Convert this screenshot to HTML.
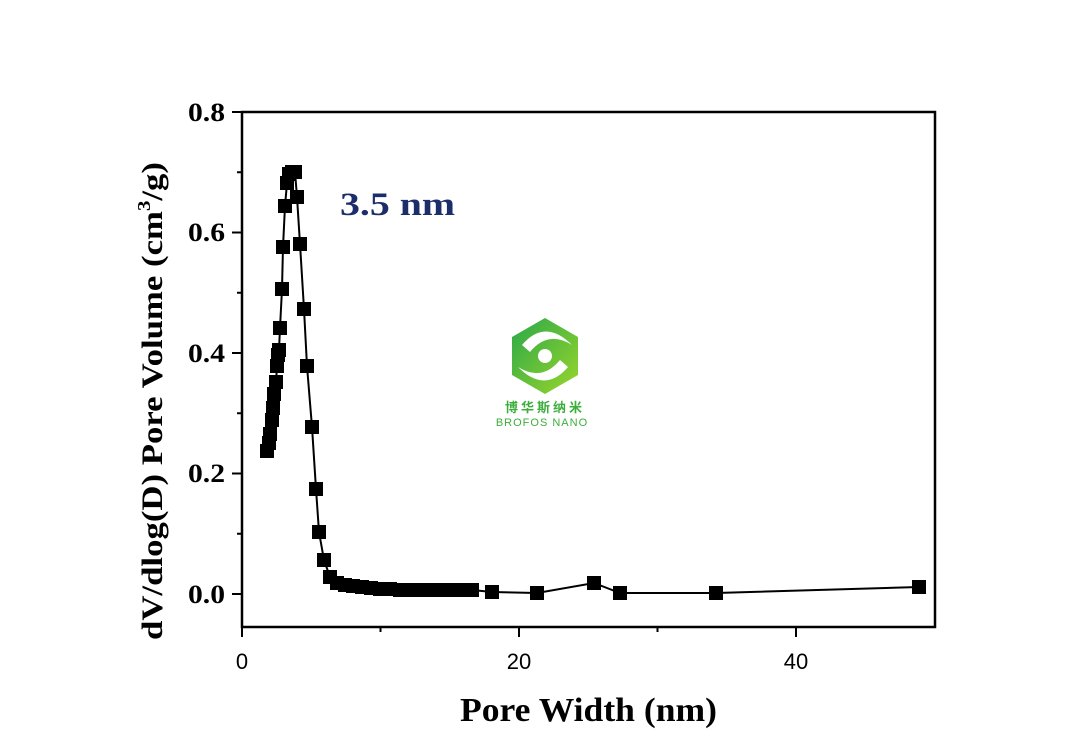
<!DOCTYPE html>
<html><head><meta charset="utf-8"><style>
body{margin:0;background:#fff;width:1084px;height:741px;overflow:hidden}
</style></head><body>
<svg width="1084" height="741" viewBox="0 0 1084 741" xmlns="http://www.w3.org/2000/svg">
<rect width="1084" height="741" fill="#fff"/>
<defs><linearGradient id="g" x1="0" y1="0" x2="1" y2="1"><stop offset="0" stop-color="#2aa84a"/><stop offset="1" stop-color="#9ad62a"/></linearGradient></defs>
<polygon points="545,318 578,337 578,375 545,394 512,375 512,337" fill="url(#g)"/>
<path d="M522,345 Q545,318 572,345 Q548,330 530,352 Z" fill="#fff"/>
<path d="M568,367 Q545,394 518,367 Q542,382 560,360 Z" fill="#fff"/>
<circle cx="545" cy="356" r="7" fill="#fff"/>
<text x="545" y="412" text-anchor="middle" font-family="'Noto Sans CJK SC',sans-serif" font-size="13" font-weight="bold" fill="#3cae3c" letter-spacing="3">博华斯纳米</text>
<text x="542" y="426" text-anchor="middle" font-family="'Liberation Sans',sans-serif" font-size="11" fill="#3cae3c" letter-spacing="1">BROFOS NANO</text>
<rect x="242" y="112" width="693" height="515" stroke="#000" stroke-width="2.5" fill="none"/>
<g stroke="#000" stroke-width="2">
<line x1="242" y1="594" x2="232" y2="594"/><line x1="242" y1="473.5" x2="232" y2="473.5"/><line x1="242" y1="353" x2="232" y2="353"/><line x1="242" y1="232.5" x2="232" y2="232.5"/><line x1="242" y1="112" x2="232" y2="112"/>
<line x1="242" y1="533.75" x2="237" y2="533.75"/><line x1="242" y1="413.25" x2="237" y2="413.25"/><line x1="242" y1="292.75" x2="237" y2="292.75"/><line x1="242" y1="172.25" x2="237" y2="172.25"/>
<line x1="242" y1="627" x2="242" y2="637"/><line x1="519" y1="627" x2="519" y2="637"/><line x1="796" y1="627" x2="796" y2="637"/>
<line x1="380.5" y1="627" x2="380.5" y2="632"/><line x1="657.5" y1="627" x2="657.5" y2="632"/>
</g>
<g font-family="'Liberation Serif',serif" font-weight="bold" font-size="26" fill="#000">
<text x="188" y="603" textLength="37" lengthAdjust="spacingAndGlyphs">0.0</text>
<text x="188" y="482" textLength="37" lengthAdjust="spacingAndGlyphs">0.2</text>
<text x="188" y="362" textLength="37" lengthAdjust="spacingAndGlyphs">0.4</text>
<text x="188" y="241" textLength="37" lengthAdjust="spacingAndGlyphs">0.6</text>
<text x="188" y="121" textLength="37" lengthAdjust="spacingAndGlyphs">0.8</text>
</g>
<g font-family="'Liberation Sans',sans-serif" font-size="22" fill="#000" text-anchor="middle">
<text x="242" y="669">0</text><text x="519" y="669">20</text><text x="796" y="669">40</text>
</g>
<text x="460" y="721" font-family="'Liberation Serif',serif" font-weight="bold" font-size="34" textLength="257" lengthAdjust="spacingAndGlyphs">Pore Width (nm)</text>
<text transform="translate(162,640) rotate(-90)" font-family="'Liberation Serif',serif" font-weight="bold" font-size="30" textLength="478" lengthAdjust="spacingAndGlyphs">dV/dlog(D) Pore Volume (cm<tspan dy="-12" font-size="18">3</tspan><tspan dy="12">/g)</tspan></text>
<text x="340" y="215" font-family="'Liberation Serif',serif" font-weight="bold" font-size="33" fill="#1c2d6b" textLength="115" lengthAdjust="spacingAndGlyphs">3.5 nm</text>
<polyline fill="none" stroke="#000" stroke-width="2" points="267,451 269,443 270,434 272,420 273,408 274,394 276,382 277,366 278,355 279,350 280,328 282,289 283,247 285,206 287,183 289,174 292,172 295,172 297,197 300,244 304,309 307,366 312,427 316,489 319,532 324,560 330,577 337,583 345,585 353,586 362,587 371,588 380,589 390,589 400,590 410,590 420,590 430,590 440,590 452,590 460,590 472,590 492,592 537,593 594,583 620,593 716,593 919,587"/>
<g fill="#000">
<rect x="260" y="444" width="14" height="14"/><rect x="262" y="436" width="14" height="14"/><rect x="263" y="427" width="14" height="14"/><rect x="265" y="413" width="14" height="14"/><rect x="266" y="401" width="14" height="14"/><rect x="267" y="387" width="14" height="14"/><rect x="269" y="375" width="14" height="14"/><rect x="270" y="359" width="14" height="14"/><rect x="271" y="348" width="14" height="14"/><rect x="272" y="343" width="14" height="14"/><rect x="273" y="321" width="14" height="14"/><rect x="275" y="282" width="14" height="14"/><rect x="276" y="240" width="14" height="14"/><rect x="278" y="199" width="14" height="14"/><rect x="280" y="176" width="14" height="14"/><rect x="282" y="167" width="14" height="14"/><rect x="285" y="165" width="14" height="14"/><rect x="288" y="165" width="14" height="14"/><rect x="290" y="190" width="14" height="14"/><rect x="293" y="237" width="14" height="14"/><rect x="297" y="302" width="14" height="14"/><rect x="300" y="359" width="14" height="14"/><rect x="305" y="420" width="14" height="14"/><rect x="309" y="482" width="14" height="14"/><rect x="312" y="525" width="14" height="14"/><rect x="317" y="553" width="14" height="14"/><rect x="323" y="570" width="14" height="14"/><rect x="330" y="576" width="14" height="14"/><rect x="338" y="578" width="14" height="14"/><rect x="346" y="579" width="14" height="14"/><rect x="355" y="580" width="14" height="14"/><rect x="364" y="581" width="14" height="14"/><rect x="373" y="582" width="14" height="14"/><rect x="383" y="582" width="14" height="14"/><rect x="393" y="583" width="14" height="14"/><rect x="403" y="583" width="14" height="14"/><rect x="413" y="583" width="14" height="14"/><rect x="423" y="583" width="14" height="14"/><rect x="433" y="583" width="14" height="14"/><rect x="445" y="583" width="14" height="14"/><rect x="453" y="583" width="14" height="14"/><rect x="465" y="583" width="14" height="14"/><rect x="485" y="585" width="14" height="14"/><rect x="530" y="586" width="14" height="14"/><rect x="587" y="576" width="14" height="14"/><rect x="613" y="586" width="14" height="14"/><rect x="709" y="586" width="14" height="14"/><rect x="912" y="580" width="14" height="14"/>
</g>
</svg>
</body></html>
